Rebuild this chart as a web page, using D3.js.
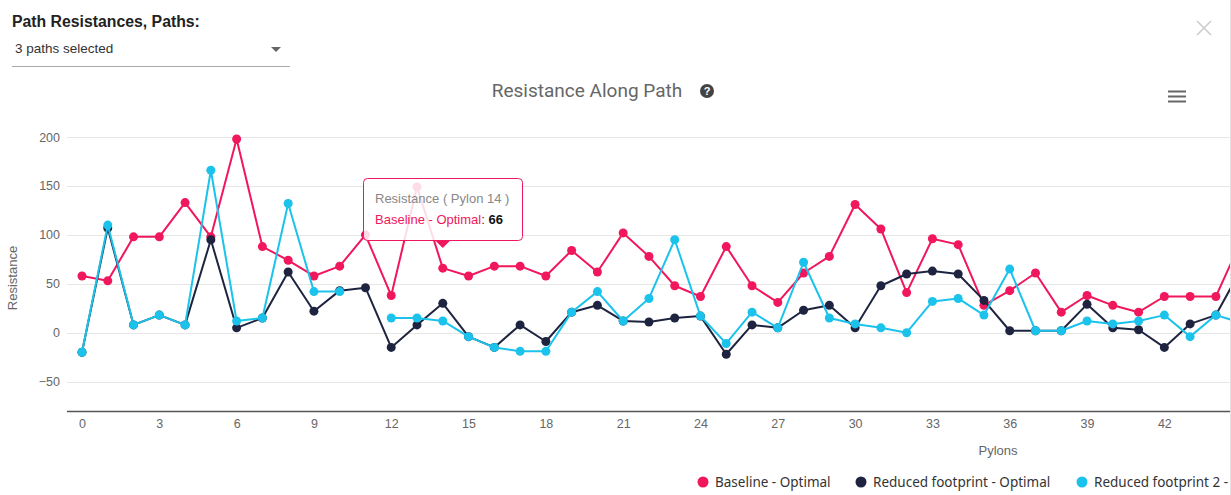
<!DOCTYPE html>
<html>
<head>
<meta charset="utf-8">
<script src="https://cdn.jsdelivr.net/npm/d3@7/dist/d3.min.js"></script>
<style>
  html, body { margin: 0; padding: 0; background: #fff; overflow: hidden; }
  svg { display: block; }
</style>
</head>
<body>
<svg id="chart" width="1231" height="495"></svg>
<script>
// ---- data ----
const pylons = d3.range(0, 46);
const seriesNames = ["Baseline - Optimal", "Reduced footprint - Optimal", "Reduced footprint 2 - Optimal"];
const seriesColors = ["#f0175c", "#1e2440", "#1bc3ec"];
const baseline = [58, 53, 98, 98, 133, 98, 198, 88, 74, 58, 68, 100, 38, 149, 66, 58, 68, 68, 58, 84, 62, 102, 78, 48, 37, 88, 48, 31, 61, 78, 131, 106, 41, 96, 90, 28, 43, 61, 21, 38, 28, 21, 37, 37, 37, 95];
const reduced = [-20, 107, 8, 18, 8, 95, 5, 15, 62, 22, 43, 46, -15, 8, 30, -4, -15, 8, -9, 21, 28, 12, 11, 15, 17, -22, 8, 5, 23, 28, 5, 48, 60, 63, 60, 33, 2, 2, 2, 29, 5, 3, -15, 9, 18, 66];
const reduced2 = [-20, 110, 8, 18, 8, 166, 12, 15, 132, 42, 42, null, 15, 15, 12, -4, -15, -19, -19, 21, 42, 12, 35, 95, 17, -11, 21, 5, 72, 15, 9, 5, 0, 32, 35, 18, 65, 2, 2, 12, 9, 12, 18, -4, 18, 10];
const xTicks = [0, 3, 6, 9, 12, 15, 18, 21, 24, 27, 30, 33, 36, 39, 42];
const yTicks = [-50, 0, 50, 100, 150, 200];

const seriesData = [baseline, reduced, reduced2];

// ---- layout ----
const svg = d3.select("#chart");
const plotLeft = 67, plotRight = 1230, plotTop = 137, plotBottom = 411;
const x = d3.scaleLinear().domain([0, 45]).range([82, 82 + 45 * 25.77]);
const y = d3.scaleLinear().domain([-80, 200]).range([plotBottom, plotTop]);
const FONT = "'Liberation Sans', Arial, sans-serif";

// header
svg.append("text").attr("x", 12).attr("y", 27).attr("font-family", FONT)
  .attr("font-size", 15.8).attr("font-weight", "bold").attr("fill", "#222")
  .text("Path Resistances, Paths:");
svg.append("text").attr("x", 15).attr("y", 53).attr("font-family", FONT)
  .attr("font-size", 13.5).attr("fill", "#333").text("3 paths selected");
svg.append("line").attr("x1", 12).attr("x2", 290).attr("y1", 66.5).attr("y2", 66.5)
  .attr("stroke", "#aaa").attr("stroke-width", 1);
svg.append("path").attr("d", "M271,47 L281,47 L276,52 Z").attr("fill", "#666");

// close X
svg.append("path").attr("d", "M1197,21 L1211,35 M1211,21 L1197,35")
  .attr("stroke", "#ccc").attr("stroke-width", 1.6).attr("fill", "none");
// right border
svg.append("line").attr("x1", 1230.5).attr("x2", 1230.5).attr("y1", 0).attr("y2", 495)
  .attr("stroke", "#e2e2e2");

// title
svg.append("text").attr("x", 587).attr("y", 97).attr("text-anchor", "middle")
  .attr("font-family", "Roboto, sans-serif").attr("font-size", 19).attr("fill", "#666")
  .text("Resistance Along Path");
svg.append("circle").attr("cx", 707).attr("cy", 91).attr("r", 7).attr("fill", "#444");
svg.append("text").attr("x", 707).attr("y", 95).attr("text-anchor", "middle")
  .attr("font-family", FONT).attr("font-size", 11).attr("font-weight", "bold").attr("fill", "#fff").text("?");

// hamburger
[91.5, 96.5, 101.5].forEach(yy => {
  svg.append("line").attr("x1", 1168).attr("x2", 1186).attr("y1", yy).attr("y2", yy)
    .attr("stroke", "#666").attr("stroke-width", 2);
});

// grid
svg.append("g").selectAll("line").data(yTicks).join("line")
  .attr("x1", plotLeft).attr("x2", plotRight)
  .attr("y1", d => Math.round(y(d)) + 0.5).attr("y2", d => Math.round(y(d)) + 0.5)
  .attr("stroke", "#e6e6e6").attr("stroke-width", 1);

// y axis
const yAxis = svg.append("g").attr("transform", `translate(${plotLeft},0)`)
  .call(d3.axisLeft(y).tickValues(yTicks).tickSize(0).tickPadding(7));
yAxis.select(".domain").remove();
yAxis.selectAll("text").attr("font-family", FONT).attr("font-size", 12.5).attr("fill", "#666");

// x axis
const xAxis = svg.append("g").attr("transform", `translate(0,${plotBottom})`)
  .call(d3.axisBottom(x).tickValues(xTicks).tickSize(0).tickPadding(8));
xAxis.select(".domain").remove();
xAxis.selectAll("text").attr("font-family", FONT).attr("font-size", 12.5).attr("fill", "#666");
svg.append("line").attr("x1", plotLeft).attr("x2", plotRight)
  .attr("y1", plotBottom + 0.5).attr("y2", plotBottom + 0.5)
  .attr("stroke", "#555").attr("stroke-width", 1.3);

// axis titles
svg.append("text").attr("transform", "translate(17,278) rotate(-90)")
  .attr("text-anchor", "middle").attr("font-family", FONT).attr("font-size", 13)
  .attr("fill", "#666").text("Resistance");
svg.append("text").attr("x", 998).attr("y", 455).attr("text-anchor", "middle")
  .attr("font-family", FONT).attr("font-size", 13).attr("fill", "#666").text("Pylons");

// clip
svg.append("defs").append("clipPath").attr("id", "plotclip")
  .append("rect").attr("x", plotLeft).attr("y", 100).attr("width", plotRight - plotLeft).attr("height", 320);

const plot = svg.append("g").attr("clip-path", "url(#plotclip)");
const line = d3.line().defined(d => d.v !== null).x(d => x(d.p)).y(d => y(d.v));

seriesData.forEach((vals, i) => {
  const pts = pylons.map((p, k) => ({ p: p, v: vals[k] }));
  const g = plot.append("g");
  g.append("path").datum(pts).attr("d", line).attr("fill", "none")
    .attr("stroke", seriesColors[i]).attr("stroke-width", 2).attr("stroke-linejoin", "round");
  g.selectAll("circle").data(pts.filter(d => d.v !== null)).join("circle")
    .attr("cx", d => x(d.p)).attr("cy", d => y(d.v)).attr("r", 4.5)
    .attr("fill", seriesColors[i]);
});

// tooltip
const tipIdx = 14;
const tx = x(tipIdx);
const tip = svg.append("g");
tip.append("rect").attr("x", 363.5).attr("y", 178.5).attr("width", 159).attr("height", 62).attr("rx", 4)
  .attr("fill", "#fff").attr("fill-opacity", 0.85).attr("stroke", seriesColors[0]).attr("stroke-width", 1);
tip.append("path").attr("d", `M${tx - 8},240 L${tx + 8},240 L${tx},248 Z`).attr("fill", seriesColors[0]);
tip.append("text").attr("x", 375).attr("y", 203).attr("font-family", FONT).attr("font-size", 13)
  .attr("fill", "#888").text(`Resistance ( Pylon ${pylons[tipIdx]} )`);
const t2 = tip.append("text").attr("x", 375).attr("y", 224).attr("font-family", FONT).attr("font-size", 13);
t2.append("tspan").attr("fill", seriesColors[0]).text(seriesNames[0]);
t2.append("tspan").attr("fill", "#333").text(": ");
t2.append("tspan").attr("fill", "#111").attr("font-weight", "bold").text(baseline[tipIdx]);

// legend
const legendX = [703, 861, 1082];
seriesNames.forEach((n, i) => {
  svg.append("circle").attr("cx", legendX[i]).attr("cy", 482).attr("r", 5.5).attr("fill", seriesColors[i]);
  svg.append("text").attr("x", legendX[i] + 12).attr("y", 487)
    .attr("font-family", "'Noto Sans', sans-serif").attr("font-size", 13.5).attr("fill", "#333").text(n);
});
</script>
</body>
</html>
